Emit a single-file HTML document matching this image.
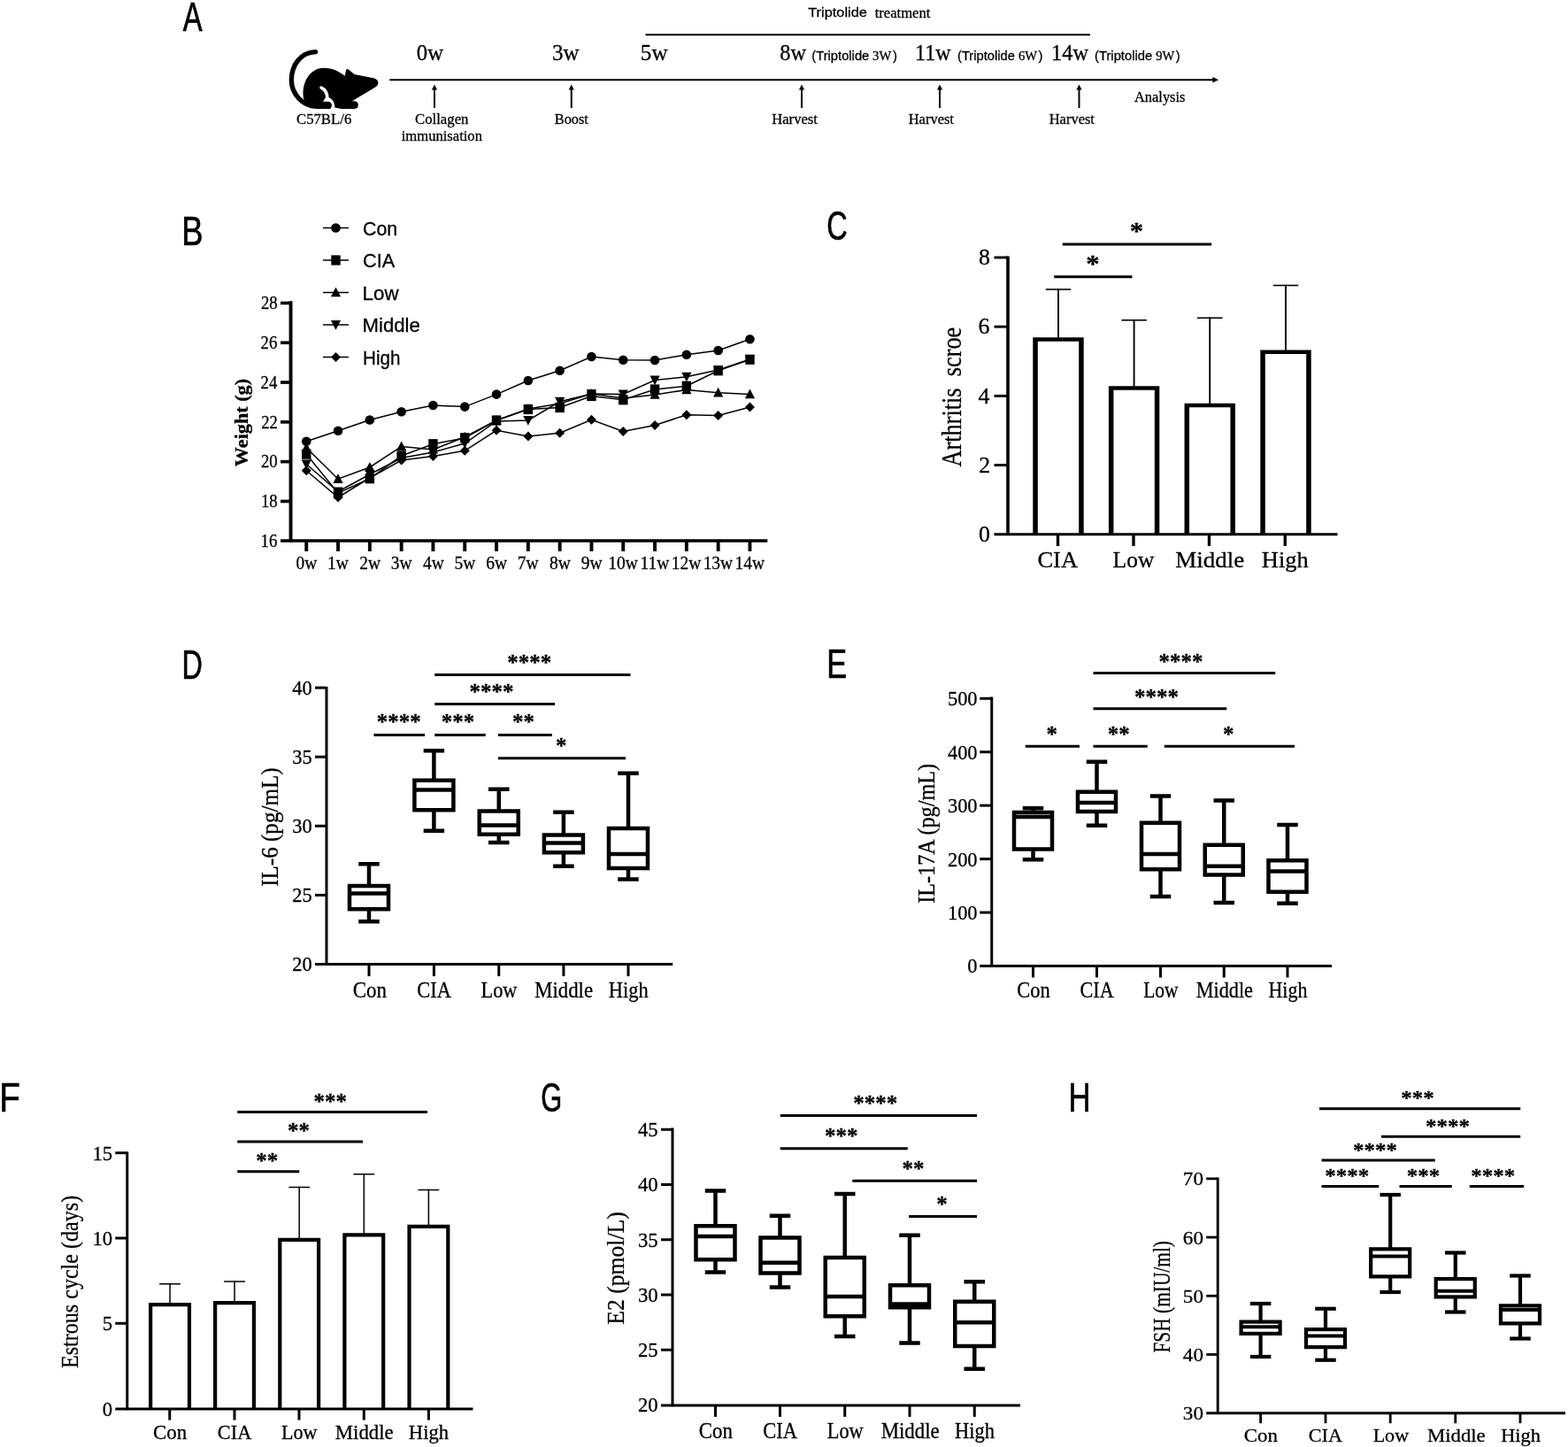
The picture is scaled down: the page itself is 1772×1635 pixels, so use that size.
<!DOCTYPE html>
<html lang="en"><head><meta charset="utf-8"><title>Figure</title>
<style>
html,body{margin:0;padding:0;background:#fff;}
body{width:1772px;height:1635px;overflow:hidden;}
svg{display:block;}
text{fill:#000;white-space:pre;}
</style></head>
<body>
<svg width="1772" height="1635" viewBox="0 0 1772 1635">
<rect width="1772" height="1635" fill="#fff"/>
<g id="shapes">
<g transform="translate(310,40) scale(0.07901)">
<path d="M590 235 C380 240 245 420 245 640 C245 830 400 1015 600 1015 L780 1015" fill="none" stroke="#000" stroke-width="68" stroke-linecap="round"/>
<path d="M425 930 C370 700 500 465 710 465 C830 465 940 520 1008 580 L1028 492 Q1045 472 1062 488 L1145 558 L1420 612 Q1492 632 1485 692 Q1478 722 1440 742 L1112 940 L1150 940 Q1200 945 1200 995 Q1200 1050 1150 1050 L960 1050 L860 1032 L840 1050 L600 1050 Z" fill="#000"/>
<path d="M672 748 C730 775 756 840 758 893" fill="none" stroke="#fff" stroke-width="46" stroke-linecap="round"/>
<path d="M738 880 L696 946 L770 946 Q822 955 822 1000 Q822 1030 800 1052 L866 1052 C868 980 845 915 782 890 Z" fill="#fff"/>
</g>
<line x1="440.30" y1="90.25" x2="1371.00" y2="90.25" stroke="#000" stroke-width="2" stroke-linecap="butt"/>
<path d="M1377.2 90.25 L1370.3 87.05 L1370.3 93.45 Z" fill="#000"/>
<line x1="729.50" y1="39.30" x2="1232.00" y2="39.30" stroke="#000" stroke-width="2" stroke-linecap="butt"/>
<line x1="491.00" y1="122.00" x2="491.00" y2="99.00" stroke="#000" stroke-width="2.0" stroke-linecap="butt"/>
<path d="M491 95.5 L487.9 101.6 L494.1 101.6 Z" fill="#000"/>
<line x1="645.75" y1="122.00" x2="645.75" y2="99.00" stroke="#000" stroke-width="2.0" stroke-linecap="butt"/>
<path d="M645.75 95.5 L642.65 101.6 L648.85 101.6 Z" fill="#000"/>
<line x1="906.00" y1="122.00" x2="906.00" y2="99.00" stroke="#000" stroke-width="2.0" stroke-linecap="butt"/>
<path d="M906 95.5 L902.9 101.6 L909.1 101.6 Z" fill="#000"/>
<line x1="1062.00" y1="122.00" x2="1062.00" y2="99.00" stroke="#000" stroke-width="2.0" stroke-linecap="butt"/>
<path d="M1062 95.5 L1058.9 101.6 L1065.1 101.6 Z" fill="#000"/>
<line x1="1219.50" y1="122.00" x2="1219.50" y2="99.00" stroke="#000" stroke-width="2.0" stroke-linecap="butt"/>
<path d="M1219.5 95.5 L1216.4 101.6 L1222.6 101.6 Z" fill="#000"/>
<text transform="translate(917.28,68.10) scale(1.0392,1)" font-family="'Liberation Sans', sans-serif" font-size="14.2" stroke="#000" stroke-width="0.28">(Triptolide <tspan x="66.24" font-family="'Liberation Serif', serif" font-size="14.1">3W</tspan><tspan x="88.18">)</tspan></text>
<text transform="translate(1081.98,68.10) scale(1.0392,1)" font-family="'Liberation Sans', sans-serif" font-size="14.2" stroke="#000" stroke-width="0.28">(Triptolide <tspan x="66.46" font-family="'Liberation Serif', serif" font-size="14.1">6W</tspan><tspan x="88.18">)</tspan></text>
<text transform="translate(1237.08,68.10) scale(1.0392,1)" font-family="'Liberation Sans', sans-serif" font-size="14.2" stroke="#000" stroke-width="0.28">(Triptolide <tspan x="66.46" font-family="'Liberation Serif', serif" font-size="14.1">9W</tspan><tspan x="88.18">)</tspan></text>
<line x1="328.55" y1="340.30" x2="328.55" y2="612.65" stroke="#000" stroke-width="3.9" stroke-linecap="butt"/>
<line x1="317.05" y1="611.00" x2="867.30" y2="611.00" stroke="#000" stroke-width="3.7" stroke-linecap="butt"/>
<line x1="317.05" y1="566.45" x2="328.55" y2="566.45" stroke="#000" stroke-width="3.6" stroke-linecap="butt"/>
<line x1="317.05" y1="521.65" x2="328.55" y2="521.65" stroke="#000" stroke-width="3.6" stroke-linecap="butt"/>
<line x1="317.05" y1="476.85" x2="328.55" y2="476.85" stroke="#000" stroke-width="3.6" stroke-linecap="butt"/>
<line x1="317.05" y1="432.05" x2="328.55" y2="432.05" stroke="#000" stroke-width="3.6" stroke-linecap="butt"/>
<line x1="317.05" y1="387.25" x2="328.55" y2="387.25" stroke="#000" stroke-width="3.6" stroke-linecap="butt"/>
<line x1="317.05" y1="342.45" x2="328.55" y2="342.45" stroke="#000" stroke-width="3.6" stroke-linecap="butt"/>
<line x1="346.25" y1="611.00" x2="346.25" y2="622.90" stroke="#000" stroke-width="3.9" stroke-linecap="butt"/>
<line x1="382.05" y1="611.00" x2="382.05" y2="622.90" stroke="#000" stroke-width="3.9" stroke-linecap="butt"/>
<line x1="417.85" y1="611.00" x2="417.85" y2="622.90" stroke="#000" stroke-width="3.9" stroke-linecap="butt"/>
<line x1="453.65" y1="611.00" x2="453.65" y2="622.90" stroke="#000" stroke-width="3.9" stroke-linecap="butt"/>
<line x1="489.45" y1="611.00" x2="489.45" y2="622.90" stroke="#000" stroke-width="3.9" stroke-linecap="butt"/>
<line x1="525.25" y1="611.00" x2="525.25" y2="622.90" stroke="#000" stroke-width="3.9" stroke-linecap="butt"/>
<line x1="561.05" y1="611.00" x2="561.05" y2="622.90" stroke="#000" stroke-width="3.9" stroke-linecap="butt"/>
<line x1="596.85" y1="611.00" x2="596.85" y2="622.90" stroke="#000" stroke-width="3.9" stroke-linecap="butt"/>
<line x1="632.65" y1="611.00" x2="632.65" y2="622.90" stroke="#000" stroke-width="3.9" stroke-linecap="butt"/>
<line x1="668.45" y1="611.00" x2="668.45" y2="622.90" stroke="#000" stroke-width="3.9" stroke-linecap="butt"/>
<line x1="704.25" y1="611.00" x2="704.25" y2="622.90" stroke="#000" stroke-width="3.9" stroke-linecap="butt"/>
<line x1="740.05" y1="611.00" x2="740.05" y2="622.90" stroke="#000" stroke-width="3.9" stroke-linecap="butt"/>
<line x1="775.85" y1="611.00" x2="775.85" y2="622.90" stroke="#000" stroke-width="3.9" stroke-linecap="butt"/>
<line x1="811.65" y1="611.00" x2="811.65" y2="622.90" stroke="#000" stroke-width="3.9" stroke-linecap="butt"/>
<line x1="847.45" y1="611.00" x2="847.45" y2="622.90" stroke="#000" stroke-width="3.9" stroke-linecap="butt"/>
<polyline points="346.25,498.75 382.05,486.75 417.85,474.50 453.65,465.25 489.45,458.00 525.25,459.60 561.05,445.60 596.85,430.00 632.65,418.75 668.45,403.00 704.25,406.75 740.05,407.00 775.85,400.75 811.65,396.00 847.45,383.25" fill="none" stroke="#000" stroke-width="1.5"/>
<polyline points="346.25,513.20 382.05,557.20 417.85,540.75 453.65,515.00 489.45,501.75 525.25,494.80 561.05,475.00 596.85,462.50 632.65,460.50 668.45,447.50 704.25,451.75 740.05,440.00 775.85,436.25 811.65,418.75 847.45,406.25" fill="none" stroke="#000" stroke-width="1.5"/>
<polyline points="346.25,506.00 382.05,541.25 417.85,528.00 453.65,504.50 489.45,508.00 525.25,493.75 561.05,475.00 596.85,462.00 632.65,456.00 668.45,445.00 704.25,450.00 740.05,446.00 775.85,440.50 811.65,443.75 847.45,445.50" fill="none" stroke="#000" stroke-width="1.5"/>
<polyline points="346.25,524.50 382.05,555.50 417.85,536.00 453.65,517.50 489.45,511.00 525.25,501.00 561.05,476.00 596.85,475.00 632.65,453.75 668.45,445.00 704.25,445.50 740.05,429.50 775.85,425.75 811.65,418.00 847.45,406.00" fill="none" stroke="#000" stroke-width="1.5"/>
<polyline points="346.25,531.75 382.05,562.00 417.85,540.00 453.65,520.00 489.45,515.50 525.25,509.30 561.05,486.25 596.85,493.00 632.65,489.25 668.45,474.25 704.25,487.50 740.05,480.50 775.85,468.75 811.65,469.50 847.45,460.00" fill="none" stroke="#000" stroke-width="1.5"/>
<circle cx="346.25" cy="498.75" r="5.3" fill="#000"/>
<circle cx="382.05" cy="486.75" r="5.3" fill="#000"/>
<circle cx="417.85" cy="474.50" r="5.3" fill="#000"/>
<circle cx="453.65" cy="465.25" r="5.3" fill="#000"/>
<circle cx="489.45" cy="458.00" r="5.3" fill="#000"/>
<circle cx="525.25" cy="459.60" r="5.3" fill="#000"/>
<circle cx="561.05" cy="445.60" r="5.3" fill="#000"/>
<circle cx="596.85" cy="430.00" r="5.3" fill="#000"/>
<circle cx="632.65" cy="418.75" r="5.3" fill="#000"/>
<circle cx="668.45" cy="403.00" r="5.3" fill="#000"/>
<circle cx="704.25" cy="406.75" r="5.3" fill="#000"/>
<circle cx="740.05" cy="407.00" r="5.3" fill="#000"/>
<circle cx="775.85" cy="400.75" r="5.3" fill="#000"/>
<circle cx="811.65" cy="396.00" r="5.3" fill="#000"/>
<circle cx="847.45" cy="383.25" r="5.3" fill="#000"/>
<rect x="341.05" y="507.60" width="10.4" height="11.2" fill="#000"/>
<rect x="376.85" y="551.60" width="10.4" height="11.2" fill="#000"/>
<rect x="412.65" y="535.15" width="10.4" height="11.2" fill="#000"/>
<rect x="448.45" y="509.40" width="10.4" height="11.2" fill="#000"/>
<rect x="484.25" y="496.15" width="10.4" height="11.2" fill="#000"/>
<rect x="520.05" y="489.20" width="10.4" height="11.2" fill="#000"/>
<rect x="555.85" y="469.40" width="10.4" height="11.2" fill="#000"/>
<rect x="591.65" y="456.90" width="10.4" height="11.2" fill="#000"/>
<rect x="627.45" y="454.90" width="10.4" height="11.2" fill="#000"/>
<rect x="663.25" y="441.90" width="10.4" height="11.2" fill="#000"/>
<rect x="699.05" y="446.15" width="10.4" height="11.2" fill="#000"/>
<rect x="734.85" y="434.40" width="10.4" height="11.2" fill="#000"/>
<rect x="770.65" y="430.65" width="10.4" height="11.2" fill="#000"/>
<rect x="806.45" y="413.15" width="10.4" height="11.2" fill="#000"/>
<rect x="842.25" y="400.65" width="10.4" height="11.2" fill="#000"/>
<path d="M346.25 500.10 L351.85 510.80 L340.65 510.80 Z" fill="#000"/>
<path d="M382.05 535.35 L387.65 546.05 L376.45 546.05 Z" fill="#000"/>
<path d="M417.85 522.10 L423.45 532.80 L412.25 532.80 Z" fill="#000"/>
<path d="M453.65 498.60 L459.25 509.30 L448.05 509.30 Z" fill="#000"/>
<path d="M489.45 502.10 L495.05 512.80 L483.85 512.80 Z" fill="#000"/>
<path d="M525.25 487.85 L530.85 498.55 L519.65 498.55 Z" fill="#000"/>
<path d="M561.05 469.10 L566.65 479.80 L555.45 479.80 Z" fill="#000"/>
<path d="M596.85 456.10 L602.45 466.80 L591.25 466.80 Z" fill="#000"/>
<path d="M632.65 450.10 L638.25 460.80 L627.05 460.80 Z" fill="#000"/>
<path d="M668.45 439.10 L674.05 449.80 L662.85 449.80 Z" fill="#000"/>
<path d="M704.25 444.10 L709.85 454.80 L698.65 454.80 Z" fill="#000"/>
<path d="M740.05 440.10 L745.65 450.80 L734.45 450.80 Z" fill="#000"/>
<path d="M775.85 434.60 L781.45 445.30 L770.25 445.30 Z" fill="#000"/>
<path d="M811.65 437.85 L817.25 448.55 L806.05 448.55 Z" fill="#000"/>
<path d="M847.45 439.60 L853.05 450.30 L841.85 450.30 Z" fill="#000"/>
<path d="M346.25 530.20 L351.85 519.60 L340.65 519.60 Z" fill="#000"/>
<path d="M382.05 561.20 L387.65 550.60 L376.45 550.60 Z" fill="#000"/>
<path d="M417.85 541.70 L423.45 531.10 L412.25 531.10 Z" fill="#000"/>
<path d="M453.65 523.20 L459.25 512.60 L448.05 512.60 Z" fill="#000"/>
<path d="M489.45 516.70 L495.05 506.10 L483.85 506.10 Z" fill="#000"/>
<path d="M525.25 506.70 L530.85 496.10 L519.65 496.10 Z" fill="#000"/>
<path d="M561.05 481.70 L566.65 471.10 L555.45 471.10 Z" fill="#000"/>
<path d="M596.85 480.70 L602.45 470.10 L591.25 470.10 Z" fill="#000"/>
<path d="M632.65 459.45 L638.25 448.85 L627.05 448.85 Z" fill="#000"/>
<path d="M668.45 450.70 L674.05 440.10 L662.85 440.10 Z" fill="#000"/>
<path d="M704.25 451.20 L709.85 440.60 L698.65 440.60 Z" fill="#000"/>
<path d="M740.05 435.20 L745.65 424.60 L734.45 424.60 Z" fill="#000"/>
<path d="M775.85 431.45 L781.45 420.85 L770.25 420.85 Z" fill="#000"/>
<path d="M811.65 423.70 L817.25 413.10 L806.05 413.10 Z" fill="#000"/>
<path d="M847.45 411.70 L853.05 401.10 L841.85 401.10 Z" fill="#000"/>
<path d="M346.25 526.25 L351.75 531.75 L346.25 537.25 L340.75 531.75 Z" fill="#000"/>
<path d="M382.05 556.50 L387.55 562.00 L382.05 567.50 L376.55 562.00 Z" fill="#000"/>
<path d="M417.85 534.50 L423.35 540.00 L417.85 545.50 L412.35 540.00 Z" fill="#000"/>
<path d="M453.65 514.50 L459.15 520.00 L453.65 525.50 L448.15 520.00 Z" fill="#000"/>
<path d="M489.45 510.00 L494.95 515.50 L489.45 521.00 L483.95 515.50 Z" fill="#000"/>
<path d="M525.25 503.80 L530.75 509.30 L525.25 514.80 L519.75 509.30 Z" fill="#000"/>
<path d="M561.05 480.75 L566.55 486.25 L561.05 491.75 L555.55 486.25 Z" fill="#000"/>
<path d="M596.85 487.50 L602.35 493.00 L596.85 498.50 L591.35 493.00 Z" fill="#000"/>
<path d="M632.65 483.75 L638.15 489.25 L632.65 494.75 L627.15 489.25 Z" fill="#000"/>
<path d="M668.45 468.75 L673.95 474.25 L668.45 479.75 L662.95 474.25 Z" fill="#000"/>
<path d="M704.25 482.00 L709.75 487.50 L704.25 493.00 L698.75 487.50 Z" fill="#000"/>
<path d="M740.05 475.00 L745.55 480.50 L740.05 486.00 L734.55 480.50 Z" fill="#000"/>
<path d="M775.85 463.25 L781.35 468.75 L775.85 474.25 L770.35 468.75 Z" fill="#000"/>
<path d="M811.65 464.00 L817.15 469.50 L811.65 475.00 L806.15 469.50 Z" fill="#000"/>
<path d="M847.45 454.50 L852.95 460.00 L847.45 465.50 L841.95 460.00 Z" fill="#000"/>
<line x1="365.00" y1="257.50" x2="394.00" y2="257.50" stroke="#000" stroke-width="1.5" stroke-linecap="butt"/>
<circle cx="379.50" cy="257.50" r="5.3" fill="#000"/>
<line x1="365.00" y1="294.00" x2="394.00" y2="294.00" stroke="#000" stroke-width="1.5" stroke-linecap="butt"/>
<rect x="374.30" y="288.40" width="10.4" height="11.2" fill="#000"/>
<line x1="365.00" y1="330.50" x2="394.00" y2="330.50" stroke="#000" stroke-width="1.5" stroke-linecap="butt"/>
<path d="M379.50 324.60 L385.10 335.30 L373.90 335.30 Z" fill="#000"/>
<line x1="365.00" y1="367.00" x2="394.00" y2="367.00" stroke="#000" stroke-width="1.5" stroke-linecap="butt"/>
<path d="M379.50 372.70 L385.10 362.10 L373.90 362.10 Z" fill="#000"/>
<line x1="365.00" y1="403.50" x2="394.00" y2="403.50" stroke="#000" stroke-width="1.5" stroke-linecap="butt"/>
<path d="M379.50 398.00 L385.00 403.50 L379.50 409.00 L374.00 403.50 Z" fill="#000"/>
<line x1="1139.00" y1="289.50" x2="1139.00" y2="605.10" stroke="#000" stroke-width="3.6" stroke-linecap="butt"/>
<line x1="1123.50" y1="603.75" x2="1511.50" y2="603.75" stroke="#000" stroke-width="3.1" stroke-linecap="butt"/>
<line x1="1123.50" y1="525.55" x2="1139.00" y2="525.55" stroke="#000" stroke-width="2.9" stroke-linecap="butt"/>
<line x1="1123.50" y1="447.35" x2="1139.00" y2="447.35" stroke="#000" stroke-width="2.9" stroke-linecap="butt"/>
<line x1="1123.50" y1="369.15" x2="1139.00" y2="369.15" stroke="#000" stroke-width="2.9" stroke-linecap="butt"/>
<line x1="1123.50" y1="290.95" x2="1139.00" y2="290.95" stroke="#000" stroke-width="2.9" stroke-linecap="butt"/>
<line x1="1195.50" y1="603.75" x2="1195.50" y2="616.95" stroke="#000" stroke-width="3.4" stroke-linecap="butt"/>
<line x1="1281.00" y1="603.75" x2="1281.00" y2="616.95" stroke="#000" stroke-width="3.4" stroke-linecap="butt"/>
<line x1="1366.50" y1="603.75" x2="1366.50" y2="616.95" stroke="#000" stroke-width="3.4" stroke-linecap="butt"/>
<line x1="1452.30" y1="603.75" x2="1452.30" y2="616.95" stroke="#000" stroke-width="3.4" stroke-linecap="butt"/>
<line x1="1196.00" y1="326.20" x2="1196.00" y2="383.50" stroke="#000" stroke-width="1.9" stroke-linecap="butt"/>
<line x1="1181.75" y1="327.00" x2="1210.25" y2="327.00" stroke="#000" stroke-width="1.6" stroke-linecap="butt"/>
<path d="M1167.30 603.75 L1167.30 381.25 L1224.70 381.25 L1224.70 603.75 L1219.20 603.75 L1219.20 385.75 L1172.80 385.75 L1172.80 603.75 Z" fill="#000"/>
<line x1="1281.60" y1="360.95" x2="1281.60" y2="438.50" stroke="#000" stroke-width="1.9" stroke-linecap="butt"/>
<line x1="1267.35" y1="361.75" x2="1295.85" y2="361.75" stroke="#000" stroke-width="1.6" stroke-linecap="butt"/>
<path d="M1252.90 603.75 L1252.90 436.25 L1310.30 436.25 L1310.30 603.75 L1304.80 603.75 L1304.80 440.75 L1258.40 440.75 L1258.40 603.75 Z" fill="#000"/>
<line x1="1367.25" y1="358.45" x2="1367.25" y2="458.00" stroke="#000" stroke-width="1.9" stroke-linecap="butt"/>
<line x1="1353.00" y1="359.25" x2="1381.50" y2="359.25" stroke="#000" stroke-width="1.6" stroke-linecap="butt"/>
<path d="M1338.55 603.75 L1338.55 455.75 L1395.95 455.75 L1395.95 603.75 L1390.45 603.75 L1390.45 460.25 L1344.05 460.25 L1344.05 603.75 Z" fill="#000"/>
<line x1="1453.00" y1="321.70" x2="1453.00" y2="397.75" stroke="#000" stroke-width="1.9" stroke-linecap="butt"/>
<line x1="1438.75" y1="322.50" x2="1467.25" y2="322.50" stroke="#000" stroke-width="1.6" stroke-linecap="butt"/>
<path d="M1424.30 603.75 L1424.30 395.50 L1481.70 395.50 L1481.70 603.75 L1476.20 603.75 L1476.20 400.00 L1429.80 400.00 L1429.80 603.75 Z" fill="#000"/>
<line x1="1200.75" y1="276.00" x2="1369.25" y2="276.00" stroke="#000" stroke-width="3" stroke-linecap="butt"/>
<line x1="1191.25" y1="312.75" x2="1279.50" y2="312.75" stroke="#000" stroke-width="3" stroke-linecap="butt"/>
<line x1="369.00" y1="776.00" x2="369.00" y2="1090.80" stroke="#000" stroke-width="3" stroke-linecap="butt"/>
<line x1="356.00" y1="1089.50" x2="760.25" y2="1089.50" stroke="#000" stroke-width="3" stroke-linecap="butt"/>
<line x1="356.00" y1="1011.40" x2="369.00" y2="1011.40" stroke="#000" stroke-width="3" stroke-linecap="butt"/>
<line x1="356.00" y1="933.30" x2="369.00" y2="933.30" stroke="#000" stroke-width="3" stroke-linecap="butt"/>
<line x1="356.00" y1="855.20" x2="369.00" y2="855.20" stroke="#000" stroke-width="3" stroke-linecap="butt"/>
<line x1="356.00" y1="777.10" x2="369.00" y2="777.10" stroke="#000" stroke-width="3" stroke-linecap="butt"/>
<line x1="417.00" y1="1089.50" x2="417.00" y2="1103.10" stroke="#000" stroke-width="3" stroke-linecap="butt"/>
<line x1="490.40" y1="1089.50" x2="490.40" y2="1103.10" stroke="#000" stroke-width="3" stroke-linecap="butt"/>
<line x1="563.75" y1="1089.50" x2="563.75" y2="1103.10" stroke="#000" stroke-width="3" stroke-linecap="butt"/>
<line x1="636.90" y1="1089.50" x2="636.90" y2="1103.10" stroke="#000" stroke-width="3" stroke-linecap="butt"/>
<line x1="710.00" y1="1089.50" x2="710.00" y2="1103.10" stroke="#000" stroke-width="3" stroke-linecap="butt"/>
<line x1="417.00" y1="976.25" x2="417.00" y2="1001.00" stroke="#000" stroke-width="4.5" stroke-linecap="butt"/>
<line x1="417.00" y1="1027.25" x2="417.00" y2="1041.25" stroke="#000" stroke-width="4.5" stroke-linecap="butt"/>
<line x1="405.25" y1="976.25" x2="428.75" y2="976.25" stroke="#000" stroke-width="4.5" stroke-linecap="butt"/>
<line x1="405.25" y1="1041.25" x2="428.75" y2="1041.25" stroke="#000" stroke-width="4.5" stroke-linecap="butt"/>
<rect x="395.00" y="1001.00" width="44.00" height="26.25" fill="none" stroke="#000" stroke-width="4.5"/>
<line x1="395.00" y1="1009.50" x2="439.00" y2="1009.50" stroke="#000" stroke-width="4.5" stroke-linecap="butt"/>
<line x1="490.40" y1="848.25" x2="490.40" y2="881.75" stroke="#000" stroke-width="4.5" stroke-linecap="butt"/>
<line x1="490.40" y1="915.25" x2="490.40" y2="938.75" stroke="#000" stroke-width="4.5" stroke-linecap="butt"/>
<line x1="478.65" y1="848.25" x2="502.15" y2="848.25" stroke="#000" stroke-width="4.5" stroke-linecap="butt"/>
<line x1="478.65" y1="938.75" x2="502.15" y2="938.75" stroke="#000" stroke-width="4.5" stroke-linecap="butt"/>
<rect x="468.40" y="881.75" width="44.00" height="33.50" fill="none" stroke="#000" stroke-width="4.5"/>
<line x1="468.40" y1="892.50" x2="512.40" y2="892.50" stroke="#000" stroke-width="4.5" stroke-linecap="butt"/>
<line x1="563.75" y1="891.75" x2="563.75" y2="916.50" stroke="#000" stroke-width="4.5" stroke-linecap="butt"/>
<line x1="563.75" y1="942.75" x2="563.75" y2="952.00" stroke="#000" stroke-width="4.5" stroke-linecap="butt"/>
<line x1="552.00" y1="891.75" x2="575.50" y2="891.75" stroke="#000" stroke-width="4.5" stroke-linecap="butt"/>
<line x1="552.00" y1="952.00" x2="575.50" y2="952.00" stroke="#000" stroke-width="4.5" stroke-linecap="butt"/>
<rect x="541.75" y="916.50" width="44.00" height="26.25" fill="none" stroke="#000" stroke-width="4.5"/>
<line x1="541.75" y1="932.50" x2="585.75" y2="932.50" stroke="#000" stroke-width="4.5" stroke-linecap="butt"/>
<line x1="636.90" y1="917.75" x2="636.90" y2="943.50" stroke="#000" stroke-width="4.5" stroke-linecap="butt"/>
<line x1="636.90" y1="963.25" x2="636.90" y2="978.75" stroke="#000" stroke-width="4.5" stroke-linecap="butt"/>
<line x1="625.15" y1="917.75" x2="648.65" y2="917.75" stroke="#000" stroke-width="4.5" stroke-linecap="butt"/>
<line x1="625.15" y1="978.75" x2="648.65" y2="978.75" stroke="#000" stroke-width="4.5" stroke-linecap="butt"/>
<rect x="614.90" y="943.50" width="44.00" height="19.75" fill="none" stroke="#000" stroke-width="4.5"/>
<line x1="614.90" y1="952.50" x2="658.90" y2="952.50" stroke="#000" stroke-width="4.5" stroke-linecap="butt"/>
<line x1="710.00" y1="873.75" x2="710.00" y2="936.00" stroke="#000" stroke-width="4.5" stroke-linecap="butt"/>
<line x1="710.00" y1="981.00" x2="710.00" y2="993.50" stroke="#000" stroke-width="4.5" stroke-linecap="butt"/>
<line x1="698.25" y1="873.75" x2="721.75" y2="873.75" stroke="#000" stroke-width="4.5" stroke-linecap="butt"/>
<line x1="698.25" y1="993.50" x2="721.75" y2="993.50" stroke="#000" stroke-width="4.5" stroke-linecap="butt"/>
<rect x="688.00" y="936.00" width="44.00" height="45.00" fill="none" stroke="#000" stroke-width="4.5"/>
<line x1="688.00" y1="965.00" x2="732.00" y2="965.00" stroke="#000" stroke-width="4.5" stroke-linecap="butt"/>
<line x1="491.25" y1="762.50" x2="712.50" y2="762.50" stroke="#000" stroke-width="3" stroke-linecap="butt"/>
<line x1="491.25" y1="795.50" x2="627.00" y2="795.50" stroke="#000" stroke-width="3" stroke-linecap="butt"/>
<line x1="422.50" y1="830.50" x2="480.00" y2="830.50" stroke="#000" stroke-width="3" stroke-linecap="butt"/>
<line x1="491.25" y1="830.50" x2="548.75" y2="830.50" stroke="#000" stroke-width="3" stroke-linecap="butt"/>
<line x1="563.00" y1="830.50" x2="623.75" y2="830.50" stroke="#000" stroke-width="3" stroke-linecap="butt"/>
<line x1="563.00" y1="856.75" x2="707.00" y2="856.75" stroke="#000" stroke-width="3" stroke-linecap="butt"/>
<line x1="1120.75" y1="787.50" x2="1120.75" y2="1092.80" stroke="#000" stroke-width="3" stroke-linecap="butt"/>
<line x1="1107.25" y1="1091.50" x2="1505.00" y2="1091.50" stroke="#000" stroke-width="3" stroke-linecap="butt"/>
<line x1="1107.25" y1="1031.05" x2="1120.75" y2="1031.05" stroke="#000" stroke-width="3" stroke-linecap="butt"/>
<line x1="1107.25" y1="970.60" x2="1120.75" y2="970.60" stroke="#000" stroke-width="3" stroke-linecap="butt"/>
<line x1="1107.25" y1="910.15" x2="1120.75" y2="910.15" stroke="#000" stroke-width="3" stroke-linecap="butt"/>
<line x1="1107.25" y1="849.70" x2="1120.75" y2="849.70" stroke="#000" stroke-width="3" stroke-linecap="butt"/>
<line x1="1107.25" y1="789.25" x2="1120.75" y2="789.25" stroke="#000" stroke-width="3" stroke-linecap="butt"/>
<line x1="1167.50" y1="1091.50" x2="1167.50" y2="1104.50" stroke="#000" stroke-width="3" stroke-linecap="butt"/>
<line x1="1239.50" y1="1091.50" x2="1239.50" y2="1104.50" stroke="#000" stroke-width="3" stroke-linecap="butt"/>
<line x1="1311.50" y1="1091.50" x2="1311.50" y2="1104.50" stroke="#000" stroke-width="3" stroke-linecap="butt"/>
<line x1="1383.25" y1="1091.50" x2="1383.25" y2="1104.50" stroke="#000" stroke-width="3" stroke-linecap="butt"/>
<line x1="1455.00" y1="1091.50" x2="1455.00" y2="1104.50" stroke="#000" stroke-width="3" stroke-linecap="butt"/>
<line x1="1167.50" y1="913.25" x2="1167.50" y2="918.00" stroke="#000" stroke-width="4.5" stroke-linecap="butt"/>
<line x1="1167.50" y1="959.50" x2="1167.50" y2="971.25" stroke="#000" stroke-width="4.5" stroke-linecap="butt"/>
<line x1="1155.75" y1="913.25" x2="1179.25" y2="913.25" stroke="#000" stroke-width="4.5" stroke-linecap="butt"/>
<line x1="1155.75" y1="971.25" x2="1179.25" y2="971.25" stroke="#000" stroke-width="4.5" stroke-linecap="butt"/>
<rect x="1146.00" y="918.00" width="43.00" height="41.50" fill="none" stroke="#000" stroke-width="4.5"/>
<line x1="1146.00" y1="923.00" x2="1189.00" y2="923.00" stroke="#000" stroke-width="4.5" stroke-linecap="butt"/>
<line x1="1239.50" y1="860.75" x2="1239.50" y2="894.75" stroke="#000" stroke-width="4.5" stroke-linecap="butt"/>
<line x1="1239.50" y1="917.00" x2="1239.50" y2="932.75" stroke="#000" stroke-width="4.5" stroke-linecap="butt"/>
<line x1="1227.75" y1="860.75" x2="1251.25" y2="860.75" stroke="#000" stroke-width="4.5" stroke-linecap="butt"/>
<line x1="1227.75" y1="932.75" x2="1251.25" y2="932.75" stroke="#000" stroke-width="4.5" stroke-linecap="butt"/>
<rect x="1218.00" y="894.75" width="43.00" height="22.25" fill="none" stroke="#000" stroke-width="4.5"/>
<line x1="1218.00" y1="907.00" x2="1261.00" y2="907.00" stroke="#000" stroke-width="4.5" stroke-linecap="butt"/>
<line x1="1311.50" y1="899.50" x2="1311.50" y2="929.75" stroke="#000" stroke-width="4.5" stroke-linecap="butt"/>
<line x1="1311.50" y1="982.25" x2="1311.50" y2="1013.00" stroke="#000" stroke-width="4.5" stroke-linecap="butt"/>
<line x1="1299.75" y1="899.50" x2="1323.25" y2="899.50" stroke="#000" stroke-width="4.5" stroke-linecap="butt"/>
<line x1="1299.75" y1="1013.00" x2="1323.25" y2="1013.00" stroke="#000" stroke-width="4.5" stroke-linecap="butt"/>
<rect x="1290.00" y="929.75" width="43.00" height="52.50" fill="none" stroke="#000" stroke-width="4.5"/>
<line x1="1290.00" y1="965.00" x2="1333.00" y2="965.00" stroke="#000" stroke-width="4.5" stroke-linecap="butt"/>
<line x1="1383.25" y1="904.50" x2="1383.25" y2="954.75" stroke="#000" stroke-width="4.5" stroke-linecap="butt"/>
<line x1="1383.25" y1="988.50" x2="1383.25" y2="1020.00" stroke="#000" stroke-width="4.5" stroke-linecap="butt"/>
<line x1="1371.50" y1="904.50" x2="1395.00" y2="904.50" stroke="#000" stroke-width="4.5" stroke-linecap="butt"/>
<line x1="1371.50" y1="1020.00" x2="1395.00" y2="1020.00" stroke="#000" stroke-width="4.5" stroke-linecap="butt"/>
<rect x="1361.75" y="954.75" width="43.00" height="33.75" fill="none" stroke="#000" stroke-width="4.5"/>
<line x1="1361.75" y1="978.75" x2="1404.75" y2="978.75" stroke="#000" stroke-width="4.5" stroke-linecap="butt"/>
<line x1="1455.00" y1="932.00" x2="1455.00" y2="972.25" stroke="#000" stroke-width="4.5" stroke-linecap="butt"/>
<line x1="1455.00" y1="1007.75" x2="1455.00" y2="1020.75" stroke="#000" stroke-width="4.5" stroke-linecap="butt"/>
<line x1="1443.25" y1="932.00" x2="1466.75" y2="932.00" stroke="#000" stroke-width="4.5" stroke-linecap="butt"/>
<line x1="1443.25" y1="1020.75" x2="1466.75" y2="1020.75" stroke="#000" stroke-width="4.5" stroke-linecap="butt"/>
<rect x="1433.50" y="972.25" width="43.00" height="35.50" fill="none" stroke="#000" stroke-width="4.5"/>
<line x1="1433.50" y1="984.50" x2="1476.50" y2="984.50" stroke="#000" stroke-width="4.5" stroke-linecap="butt"/>
<line x1="1235.50" y1="760.50" x2="1441.25" y2="760.50" stroke="#000" stroke-width="3" stroke-linecap="butt"/>
<line x1="1235.50" y1="800.75" x2="1386.25" y2="800.75" stroke="#000" stroke-width="3" stroke-linecap="butt"/>
<line x1="1158.75" y1="843.25" x2="1220.00" y2="843.25" stroke="#000" stroke-width="3" stroke-linecap="butt"/>
<line x1="1235.50" y1="843.25" x2="1296.75" y2="843.25" stroke="#000" stroke-width="3" stroke-linecap="butt"/>
<line x1="1315.75" y1="843.25" x2="1463.00" y2="843.25" stroke="#000" stroke-width="3" stroke-linecap="butt"/>
<line x1="143.75" y1="1301.50" x2="143.75" y2="1593.30" stroke="#000" stroke-width="3" stroke-linecap="butt"/>
<line x1="130.25" y1="1592.00" x2="534.50" y2="1592.00" stroke="#000" stroke-width="3" stroke-linecap="butt"/>
<line x1="130.25" y1="1495.30" x2="143.75" y2="1495.30" stroke="#000" stroke-width="3" stroke-linecap="butt"/>
<line x1="130.25" y1="1399.00" x2="143.75" y2="1399.00" stroke="#000" stroke-width="3" stroke-linecap="butt"/>
<line x1="130.25" y1="1302.70" x2="143.75" y2="1302.70" stroke="#000" stroke-width="3" stroke-linecap="butt"/>
<line x1="191.75" y1="1592.00" x2="191.75" y2="1604.60" stroke="#000" stroke-width="3" stroke-linecap="butt"/>
<line x1="265.00" y1="1592.00" x2="265.00" y2="1604.60" stroke="#000" stroke-width="3" stroke-linecap="butt"/>
<line x1="338.00" y1="1592.00" x2="338.00" y2="1604.60" stroke="#000" stroke-width="3" stroke-linecap="butt"/>
<line x1="411.25" y1="1592.00" x2="411.25" y2="1604.60" stroke="#000" stroke-width="3" stroke-linecap="butt"/>
<line x1="484.40" y1="1592.00" x2="484.40" y2="1604.60" stroke="#000" stroke-width="3" stroke-linecap="butt"/>
<line x1="192.05" y1="1450.00" x2="192.05" y2="1474.10" stroke="#000" stroke-width="1.5" stroke-linecap="butt"/>
<line x1="180.18" y1="1450.75" x2="203.93" y2="1450.75" stroke="#000" stroke-width="1.5" stroke-linecap="butt"/>
<path d="M168.05 1592.00 L168.05 1472.00 L216.05 1472.00 L216.05 1592.00 L211.85 1592.00 L211.85 1476.20 L172.25 1476.20 L172.25 1592.00 Z" fill="#000"/>
<line x1="265.05" y1="1447.25" x2="265.05" y2="1472.10" stroke="#000" stroke-width="1.5" stroke-linecap="butt"/>
<line x1="253.18" y1="1448.00" x2="276.93" y2="1448.00" stroke="#000" stroke-width="1.5" stroke-linecap="butt"/>
<path d="M241.05 1592.00 L241.05 1470.00 L289.05 1470.00 L289.05 1592.00 L284.85 1592.00 L284.85 1474.20 L245.25 1474.20 L245.25 1592.00 Z" fill="#000"/>
<line x1="338.20" y1="1340.75" x2="338.20" y2="1400.85" stroke="#000" stroke-width="1.5" stroke-linecap="butt"/>
<line x1="326.32" y1="1341.50" x2="350.07" y2="1341.50" stroke="#000" stroke-width="1.5" stroke-linecap="butt"/>
<path d="M314.20 1592.00 L314.20 1398.75 L362.20 1398.75 L362.20 1592.00 L358.00 1592.00 L358.00 1402.95 L318.40 1402.95 L318.40 1592.00 Z" fill="#000"/>
<line x1="411.30" y1="1326.00" x2="411.30" y2="1395.35" stroke="#000" stroke-width="1.5" stroke-linecap="butt"/>
<line x1="399.43" y1="1326.75" x2="423.18" y2="1326.75" stroke="#000" stroke-width="1.5" stroke-linecap="butt"/>
<path d="M387.30 1592.00 L387.30 1393.25 L435.30 1393.25 L435.30 1592.00 L431.10 1592.00 L431.10 1397.45 L391.50 1397.45 L391.50 1592.00 Z" fill="#000"/>
<line x1="484.40" y1="1343.75" x2="484.40" y2="1385.85" stroke="#000" stroke-width="1.5" stroke-linecap="butt"/>
<line x1="472.53" y1="1344.50" x2="496.28" y2="1344.50" stroke="#000" stroke-width="1.5" stroke-linecap="butt"/>
<path d="M460.40 1592.00 L460.40 1383.75 L508.40 1383.75 L508.40 1592.00 L504.20 1592.00 L504.20 1387.95 L464.60 1387.95 L464.60 1592.00 Z" fill="#000"/>
<line x1="268.25" y1="1256.50" x2="483.00" y2="1256.50" stroke="#000" stroke-width="3" stroke-linecap="butt"/>
<line x1="268.25" y1="1290.00" x2="410.00" y2="1290.00" stroke="#000" stroke-width="3" stroke-linecap="butt"/>
<line x1="268.25" y1="1323.75" x2="338.25" y2="1323.75" stroke="#000" stroke-width="3" stroke-linecap="butt"/>
<line x1="760.00" y1="1274.50" x2="760.00" y2="1589.20" stroke="#000" stroke-width="3" stroke-linecap="butt"/>
<line x1="747.00" y1="1587.90" x2="1153.00" y2="1587.90" stroke="#000" stroke-width="3" stroke-linecap="butt"/>
<line x1="747.00" y1="1525.25" x2="760.00" y2="1525.25" stroke="#000" stroke-width="3" stroke-linecap="butt"/>
<line x1="747.00" y1="1463.00" x2="760.00" y2="1463.00" stroke="#000" stroke-width="3" stroke-linecap="butt"/>
<line x1="747.00" y1="1400.75" x2="760.00" y2="1400.75" stroke="#000" stroke-width="3" stroke-linecap="butt"/>
<line x1="747.00" y1="1338.50" x2="760.00" y2="1338.50" stroke="#000" stroke-width="3" stroke-linecap="butt"/>
<line x1="747.00" y1="1276.25" x2="760.00" y2="1276.25" stroke="#000" stroke-width="3" stroke-linecap="butt"/>
<line x1="808.50" y1="1587.90" x2="808.50" y2="1600.90" stroke="#000" stroke-width="3" stroke-linecap="butt"/>
<line x1="881.50" y1="1587.90" x2="881.50" y2="1600.90" stroke="#000" stroke-width="3" stroke-linecap="butt"/>
<line x1="954.75" y1="1587.90" x2="954.75" y2="1600.90" stroke="#000" stroke-width="3" stroke-linecap="butt"/>
<line x1="1028.00" y1="1587.90" x2="1028.00" y2="1600.90" stroke="#000" stroke-width="3" stroke-linecap="butt"/>
<line x1="1101.25" y1="1587.90" x2="1101.25" y2="1600.90" stroke="#000" stroke-width="3" stroke-linecap="butt"/>
<line x1="808.50" y1="1345.50" x2="808.50" y2="1385.25" stroke="#000" stroke-width="4.5" stroke-linecap="butt"/>
<line x1="808.50" y1="1423.25" x2="808.50" y2="1437.50" stroke="#000" stroke-width="4.5" stroke-linecap="butt"/>
<line x1="796.75" y1="1345.50" x2="820.25" y2="1345.50" stroke="#000" stroke-width="4.5" stroke-linecap="butt"/>
<line x1="796.75" y1="1437.50" x2="820.25" y2="1437.50" stroke="#000" stroke-width="4.5" stroke-linecap="butt"/>
<rect x="786.50" y="1385.25" width="44.00" height="38.00" fill="none" stroke="#000" stroke-width="4.5"/>
<line x1="786.50" y1="1397.00" x2="830.50" y2="1397.00" stroke="#000" stroke-width="4.5" stroke-linecap="butt"/>
<line x1="881.50" y1="1373.75" x2="881.50" y2="1398.50" stroke="#000" stroke-width="4.5" stroke-linecap="butt"/>
<line x1="881.50" y1="1438.50" x2="881.50" y2="1454.50" stroke="#000" stroke-width="4.5" stroke-linecap="butt"/>
<line x1="869.75" y1="1373.75" x2="893.25" y2="1373.75" stroke="#000" stroke-width="4.5" stroke-linecap="butt"/>
<line x1="869.75" y1="1454.50" x2="893.25" y2="1454.50" stroke="#000" stroke-width="4.5" stroke-linecap="butt"/>
<rect x="859.50" y="1398.50" width="44.00" height="40.00" fill="none" stroke="#000" stroke-width="4.5"/>
<line x1="859.50" y1="1426.75" x2="903.50" y2="1426.75" stroke="#000" stroke-width="4.5" stroke-linecap="butt"/>
<line x1="954.75" y1="1349.00" x2="954.75" y2="1421.00" stroke="#000" stroke-width="4.5" stroke-linecap="butt"/>
<line x1="954.75" y1="1487.25" x2="954.75" y2="1510.00" stroke="#000" stroke-width="4.5" stroke-linecap="butt"/>
<line x1="943.00" y1="1349.00" x2="966.50" y2="1349.00" stroke="#000" stroke-width="4.5" stroke-linecap="butt"/>
<line x1="943.00" y1="1510.00" x2="966.50" y2="1510.00" stroke="#000" stroke-width="4.5" stroke-linecap="butt"/>
<rect x="932.75" y="1421.00" width="44.00" height="66.25" fill="none" stroke="#000" stroke-width="4.5"/>
<line x1="932.75" y1="1465.00" x2="976.75" y2="1465.00" stroke="#000" stroke-width="4.5" stroke-linecap="butt"/>
<line x1="1028.00" y1="1395.75" x2="1028.00" y2="1452.25" stroke="#000" stroke-width="4.5" stroke-linecap="butt"/>
<line x1="1028.00" y1="1477.25" x2="1028.00" y2="1517.50" stroke="#000" stroke-width="4.5" stroke-linecap="butt"/>
<line x1="1016.25" y1="1395.75" x2="1039.75" y2="1395.75" stroke="#000" stroke-width="4.5" stroke-linecap="butt"/>
<line x1="1016.25" y1="1517.50" x2="1039.75" y2="1517.50" stroke="#000" stroke-width="4.5" stroke-linecap="butt"/>
<rect x="1006.00" y="1452.25" width="44.00" height="25.00" fill="none" stroke="#000" stroke-width="4.5"/>
<line x1="1006.00" y1="1473.50" x2="1050.00" y2="1473.50" stroke="#000" stroke-width="4.5" stroke-linecap="butt"/>
<line x1="1101.25" y1="1448.25" x2="1101.25" y2="1470.75" stroke="#000" stroke-width="4.5" stroke-linecap="butt"/>
<line x1="1101.25" y1="1521.00" x2="1101.25" y2="1546.75" stroke="#000" stroke-width="4.5" stroke-linecap="butt"/>
<line x1="1089.50" y1="1448.25" x2="1113.00" y2="1448.25" stroke="#000" stroke-width="4.5" stroke-linecap="butt"/>
<line x1="1089.50" y1="1546.75" x2="1113.00" y2="1546.75" stroke="#000" stroke-width="4.5" stroke-linecap="butt"/>
<rect x="1079.25" y="1470.75" width="44.00" height="50.25" fill="none" stroke="#000" stroke-width="4.5"/>
<line x1="1079.25" y1="1494.25" x2="1123.25" y2="1494.25" stroke="#000" stroke-width="4.5" stroke-linecap="butt"/>
<line x1="881.75" y1="1260.50" x2="1104.00" y2="1260.50" stroke="#000" stroke-width="3" stroke-linecap="butt"/>
<line x1="881.75" y1="1297.75" x2="1025.75" y2="1297.75" stroke="#000" stroke-width="3" stroke-linecap="butt"/>
<line x1="963.25" y1="1334.25" x2="1104.00" y2="1334.25" stroke="#000" stroke-width="3" stroke-linecap="butt"/>
<line x1="1027.00" y1="1374.50" x2="1104.00" y2="1374.50" stroke="#000" stroke-width="3" stroke-linecap="butt"/>
<line x1="1376.20" y1="1330.40" x2="1376.20" y2="1598.05" stroke="#000" stroke-width="2.9" stroke-linecap="butt"/>
<line x1="1363.20" y1="1596.80" x2="1769.00" y2="1596.80" stroke="#000" stroke-width="2.9" stroke-linecap="butt"/>
<line x1="1363.20" y1="1530.48" x2="1376.20" y2="1530.48" stroke="#000" stroke-width="2.8" stroke-linecap="butt"/>
<line x1="1363.20" y1="1464.26" x2="1376.20" y2="1464.26" stroke="#000" stroke-width="2.8" stroke-linecap="butt"/>
<line x1="1363.20" y1="1398.04" x2="1376.20" y2="1398.04" stroke="#000" stroke-width="2.8" stroke-linecap="butt"/>
<line x1="1363.20" y1="1331.82" x2="1376.20" y2="1331.82" stroke="#000" stroke-width="2.8" stroke-linecap="butt"/>
<line x1="1424.60" y1="1596.80" x2="1424.60" y2="1608.20" stroke="#000" stroke-width="2.8" stroke-linecap="butt"/>
<line x1="1498.00" y1="1596.80" x2="1498.00" y2="1608.20" stroke="#000" stroke-width="2.8" stroke-linecap="butt"/>
<line x1="1571.20" y1="1596.80" x2="1571.20" y2="1608.20" stroke="#000" stroke-width="2.8" stroke-linecap="butt"/>
<line x1="1644.75" y1="1596.80" x2="1644.75" y2="1608.20" stroke="#000" stroke-width="2.8" stroke-linecap="butt"/>
<line x1="1718.00" y1="1596.80" x2="1718.00" y2="1608.20" stroke="#000" stroke-width="2.8" stroke-linecap="butt"/>
<line x1="1424.60" y1="1473.00" x2="1424.60" y2="1493.60" stroke="#000" stroke-width="4.2" stroke-linecap="butt"/>
<line x1="1424.60" y1="1506.90" x2="1424.60" y2="1533.00" stroke="#000" stroke-width="4.2" stroke-linecap="butt"/>
<line x1="1412.85" y1="1473.00" x2="1436.35" y2="1473.00" stroke="#000" stroke-width="4.2" stroke-linecap="butt"/>
<line x1="1412.85" y1="1533.00" x2="1436.35" y2="1533.00" stroke="#000" stroke-width="4.2" stroke-linecap="butt"/>
<rect x="1402.57" y="1493.60" width="44.05" height="13.30" fill="none" stroke="#000" stroke-width="4.2"/>
<line x1="1402.57" y1="1499.25" x2="1446.62" y2="1499.25" stroke="#000" stroke-width="4.2" stroke-linecap="butt"/>
<line x1="1498.00" y1="1478.75" x2="1498.00" y2="1502.10" stroke="#000" stroke-width="4.2" stroke-linecap="butt"/>
<line x1="1498.00" y1="1522.15" x2="1498.00" y2="1536.75" stroke="#000" stroke-width="4.2" stroke-linecap="butt"/>
<line x1="1486.25" y1="1478.75" x2="1509.75" y2="1478.75" stroke="#000" stroke-width="4.2" stroke-linecap="butt"/>
<line x1="1486.25" y1="1536.75" x2="1509.75" y2="1536.75" stroke="#000" stroke-width="4.2" stroke-linecap="butt"/>
<rect x="1475.97" y="1502.10" width="44.05" height="20.05" fill="none" stroke="#000" stroke-width="4.2"/>
<line x1="1475.97" y1="1509.50" x2="1520.03" y2="1509.50" stroke="#000" stroke-width="4.2" stroke-linecap="butt"/>
<line x1="1571.20" y1="1350.00" x2="1571.20" y2="1411.35" stroke="#000" stroke-width="4.2" stroke-linecap="butt"/>
<line x1="1571.20" y1="1442.40" x2="1571.20" y2="1460.00" stroke="#000" stroke-width="4.2" stroke-linecap="butt"/>
<line x1="1559.45" y1="1350.00" x2="1582.95" y2="1350.00" stroke="#000" stroke-width="4.2" stroke-linecap="butt"/>
<line x1="1559.45" y1="1460.00" x2="1582.95" y2="1460.00" stroke="#000" stroke-width="4.2" stroke-linecap="butt"/>
<rect x="1549.17" y="1411.35" width="44.05" height="31.05" fill="none" stroke="#000" stroke-width="4.2"/>
<line x1="1549.17" y1="1419.50" x2="1593.23" y2="1419.50" stroke="#000" stroke-width="4.2" stroke-linecap="butt"/>
<line x1="1644.75" y1="1415.50" x2="1644.75" y2="1445.10" stroke="#000" stroke-width="4.2" stroke-linecap="butt"/>
<line x1="1644.75" y1="1465.40" x2="1644.75" y2="1482.50" stroke="#000" stroke-width="4.2" stroke-linecap="butt"/>
<line x1="1633.00" y1="1415.50" x2="1656.50" y2="1415.50" stroke="#000" stroke-width="4.2" stroke-linecap="butt"/>
<line x1="1633.00" y1="1482.50" x2="1656.50" y2="1482.50" stroke="#000" stroke-width="4.2" stroke-linecap="butt"/>
<rect x="1622.72" y="1445.10" width="44.05" height="20.30" fill="none" stroke="#000" stroke-width="4.2"/>
<line x1="1622.72" y1="1458.75" x2="1666.78" y2="1458.75" stroke="#000" stroke-width="4.2" stroke-linecap="butt"/>
<line x1="1718.00" y1="1441.50" x2="1718.00" y2="1475.35" stroke="#000" stroke-width="4.2" stroke-linecap="butt"/>
<line x1="1718.00" y1="1495.40" x2="1718.00" y2="1512.50" stroke="#000" stroke-width="4.2" stroke-linecap="butt"/>
<line x1="1706.25" y1="1441.50" x2="1729.75" y2="1441.50" stroke="#000" stroke-width="4.2" stroke-linecap="butt"/>
<line x1="1706.25" y1="1512.50" x2="1729.75" y2="1512.50" stroke="#000" stroke-width="4.2" stroke-linecap="butt"/>
<rect x="1695.97" y="1475.35" width="44.05" height="20.05" fill="none" stroke="#000" stroke-width="4.2"/>
<line x1="1695.97" y1="1480.00" x2="1740.03" y2="1480.00" stroke="#000" stroke-width="4.2" stroke-linecap="butt"/>
<line x1="1491.00" y1="1252.75" x2="1718.25" y2="1252.75" stroke="#000" stroke-width="2.8" stroke-linecap="butt"/>
<line x1="1561.00" y1="1284.25" x2="1718.25" y2="1284.25" stroke="#000" stroke-width="2.8" stroke-linecap="butt"/>
<line x1="1493.50" y1="1311.00" x2="1621.75" y2="1311.00" stroke="#000" stroke-width="2.8" stroke-linecap="butt"/>
<line x1="1493.50" y1="1340.50" x2="1558.25" y2="1340.50" stroke="#000" stroke-width="2.8" stroke-linecap="butt"/>
<line x1="1581.50" y1="1340.50" x2="1640.75" y2="1340.50" stroke="#000" stroke-width="2.8" stroke-linecap="butt"/>
<line x1="1660.75" y1="1340.50" x2="1722.00" y2="1340.50" stroke="#000" stroke-width="2.8" stroke-linecap="butt"/>
</g>
<g id="labels">
<text transform="translate(206.85,35.25) scale(0.7134,1.0000)" font-family="'Liberation Sans', sans-serif" font-size="45.9" stroke="#000" stroke-width="0.7">A</text>
<text transform="translate(334.98,140.00) scale(1.0140,1.0000)" font-family="'Liberation Serif', serif" font-size="16.5" stroke="#000" stroke-width="0.28">C57BL/6</text>
<text transform="translate(470.83,67.80) scale(1.0231,1.0000)" font-family="'Liberation Serif', serif" font-size="24.2" stroke="#000" stroke-width="0.28">0w</text>
<text transform="translate(624.02,67.80) scale(1.0367,1.0000)" font-family="'Liberation Serif', serif" font-size="24.2" stroke="#000" stroke-width="0.28">3w</text>
<text transform="translate(723.82,67.80) scale(1.0402,1.0000)" font-family="'Liberation Serif', serif" font-size="24.2" stroke="#000" stroke-width="0.28">5w</text>
<text transform="translate(881.24,67.80) scale(1.0091,1.0000)" font-family="'Liberation Serif', serif" font-size="24.2" stroke="#000" stroke-width="0.28">8w</text>
<text transform="translate(1034.12,67.80) scale(0.9921,1.0000)" font-family="'Liberation Serif', serif" font-size="24.2" stroke="#000" stroke-width="0.28">11w</text>
<text transform="translate(1188.10,67.80) scale(1.0075,1.0000)" font-family="'Liberation Serif', serif" font-size="24.2" stroke="#000" stroke-width="0.28">14w</text>
<text transform="translate(468.98,139.50) scale(1.0160,1.0000)" font-family="'Liberation Serif', serif" font-size="16.5" stroke="#000" stroke-width="0.28">Collagen</text>
<text transform="translate(453.74,159.00) scale(1.0056,1.0000)" font-family="'Liberation Serif', serif" font-size="16.5" stroke="#000" stroke-width="0.28">immunisation</text>
<text transform="translate(626.74,140.00) scale(0.9919,1.0000)" font-family="'Liberation Serif', serif" font-size="16.5" stroke="#000" stroke-width="0.28">Boost</text>
<text transform="translate(872.24,140.00) scale(1.0076,1.0000)" font-family="'Liberation Serif', serif" font-size="16.5" stroke="#000" stroke-width="0.28">Harvest</text>
<text transform="translate(1026.74,140.00) scale(0.9978,1.0000)" font-family="'Liberation Serif', serif" font-size="16.5" stroke="#000" stroke-width="0.28">Harvest</text>
<text transform="translate(1185.74,140.00) scale(0.9978,1.0000)" font-family="'Liberation Serif', serif" font-size="16.5" stroke="#000" stroke-width="0.28">Harvest</text>
<text transform="translate(1282.00,114.50) scale(0.9955,1.0000)" font-family="'Liberation Serif', serif" font-size="16.5" stroke="#000" stroke-width="0.28">Analysis</text>
<text transform="translate(913.19,19.20) scale(1.1061,1.0000)" font-family="'Liberation Sans', sans-serif" font-size="14.8" stroke="#000" stroke-width="0.28">Triptolide</text>
<text transform="translate(988.70,19.50) scale(1.0010,1.0000)" font-family="'Liberation Serif', serif" font-size="16.6" stroke="#000" stroke-width="0.28">treatment</text>
<text transform="translate(205.31,277.45) scale(0.7928,1.0000)" font-family="'Liberation Sans', sans-serif" font-size="45.9" stroke="#000" stroke-width="0.7">B</text>
<text transform="translate(294.59,617.95) scale(0.9400,1.0000)" font-family="'Liberation Serif', serif" font-size="20" stroke="#000" stroke-width="0.28">16</text>
<text transform="translate(294.89,573.15) scale(0.9400,1.0000)" font-family="'Liberation Serif', serif" font-size="20" stroke="#000" stroke-width="0.28">18</text>
<text transform="translate(294.89,528.35) scale(0.9400,1.0000)" font-family="'Liberation Serif', serif" font-size="20" stroke="#000" stroke-width="0.28">20</text>
<text transform="translate(295.18,483.55) scale(0.9400,1.0000)" font-family="'Liberation Serif', serif" font-size="20" stroke="#000" stroke-width="0.28">22</text>
<text transform="translate(294.59,438.75) scale(0.9400,1.0000)" font-family="'Liberation Serif', serif" font-size="20" stroke="#000" stroke-width="0.28">24</text>
<text transform="translate(294.59,393.95) scale(0.9400,1.0000)" font-family="'Liberation Serif', serif" font-size="20" stroke="#000" stroke-width="0.28">26</text>
<text transform="translate(294.89,349.15) scale(0.9400,1.0000)" font-family="'Liberation Serif', serif" font-size="20" stroke="#000" stroke-width="0.28">28</text>
<text transform="translate(334.57,643.00) scale(0.9600,1.0000)" font-family="'Liberation Serif', serif" font-size="20.3" stroke="#000" stroke-width="0.28">0w</text>
<text transform="translate(369.91,643.00) scale(0.9600,1.0000)" font-family="'Liberation Serif', serif" font-size="20.3" stroke="#000" stroke-width="0.28">1w</text>
<text transform="translate(406.17,643.00) scale(0.9600,1.0000)" font-family="'Liberation Serif', serif" font-size="20.3" stroke="#000" stroke-width="0.28">2w</text>
<text transform="translate(441.82,643.00) scale(0.9600,1.0000)" font-family="'Liberation Serif', serif" font-size="20.3" stroke="#000" stroke-width="0.28">3w</text>
<text transform="translate(477.92,643.00) scale(0.9600,1.0000)" font-family="'Liberation Serif', serif" font-size="20.3" stroke="#000" stroke-width="0.28">4w</text>
<text transform="translate(513.42,643.00) scale(0.9600,1.0000)" font-family="'Liberation Serif', serif" font-size="20.3" stroke="#000" stroke-width="0.28">5w</text>
<text transform="translate(549.37,643.00) scale(0.9600,1.0000)" font-family="'Liberation Serif', serif" font-size="20.3" stroke="#000" stroke-width="0.28">6w</text>
<text transform="translate(584.87,643.00) scale(0.9600,1.0000)" font-family="'Liberation Serif', serif" font-size="20.3" stroke="#000" stroke-width="0.28">7w</text>
<text transform="translate(620.97,643.00) scale(0.9600,1.0000)" font-family="'Liberation Serif', serif" font-size="20.3" stroke="#000" stroke-width="0.28">8w</text>
<text transform="translate(656.77,643.00) scale(0.9600,1.0000)" font-family="'Liberation Serif', serif" font-size="20.3" stroke="#000" stroke-width="0.28">9w</text>
<text transform="translate(687.24,643.00) scale(0.9600,1.0000)" font-family="'Liberation Serif', serif" font-size="20.3" stroke="#000" stroke-width="0.28">10w</text>
<text transform="translate(723.40,643.00) scale(0.9600,1.0000)" font-family="'Liberation Serif', serif" font-size="20.3" stroke="#000" stroke-width="0.28">11w</text>
<text transform="translate(758.84,643.00) scale(0.9600,1.0000)" font-family="'Liberation Serif', serif" font-size="20.3" stroke="#000" stroke-width="0.28">12w</text>
<text transform="translate(794.64,643.00) scale(0.9600,1.0000)" font-family="'Liberation Serif', serif" font-size="20.3" stroke="#000" stroke-width="0.28">13w</text>
<text transform="translate(830.44,643.00) scale(0.9600,1.0000)" font-family="'Liberation Serif', serif" font-size="20.3" stroke="#000" stroke-width="0.28">14w</text>
<text transform="translate(279.60,527.20) rotate(-90) scale(1.0426,1.0000)" font-family="'Liberation Serif', serif" font-size="21.3" font-weight="bold" stroke="#000" stroke-width="0.28">Weight (g)</text>
<text transform="translate(410.10,265.70) scale(0.9472,1.0000)" font-family="'Liberation Sans', sans-serif" font-size="22.5" stroke="#000" stroke-width="0.28">Con</text>
<text transform="translate(410.08,302.20) scale(0.9655,1.0000)" font-family="'Liberation Sans', sans-serif" font-size="22.5" stroke="#000" stroke-width="0.28">CIA</text>
<text transform="translate(409.56,338.70) scale(0.9926,1.0000)" font-family="'Liberation Sans', sans-serif" font-size="22.5" stroke="#000" stroke-width="0.28">Low</text>
<text transform="translate(409.57,375.00) scale(0.9841,1.0000)" font-family="'Liberation Sans', sans-serif" font-size="22.5" stroke="#000" stroke-width="0.28">Middle</text>
<text transform="translate(410.09,411.70) scale(0.9155,1.0000)" font-family="'Liberation Sans', sans-serif" font-size="22.5" stroke="#000" stroke-width="0.28">High</text>
<text transform="translate(934.13,271.45) scale(0.7074,1.0000)" font-family="'Liberation Sans', sans-serif" font-size="45.9" stroke="#000" stroke-width="0.7">C</text>
<text transform="translate(1105.96,611.95) scale(1.0700,1.0000)" font-family="'Liberation Serif', serif" font-size="24.2" stroke="#000" stroke-width="0.28">0</text>
<text transform="translate(1106.37,533.75) scale(1.0700,1.0000)" font-family="'Liberation Serif', serif" font-size="24.2" stroke="#000" stroke-width="0.28">2</text>
<text transform="translate(1105.56,455.55) scale(1.0700,1.0000)" font-family="'Liberation Serif', serif" font-size="24.2" stroke="#000" stroke-width="0.28">4</text>
<text transform="translate(1105.56,377.35) scale(1.0700,1.0000)" font-family="'Liberation Serif', serif" font-size="24.2" stroke="#000" stroke-width="0.28">6</text>
<text transform="translate(1105.96,299.15) scale(1.0700,1.0000)" font-family="'Liberation Serif', serif" font-size="24.2" stroke="#000" stroke-width="0.28">8</text>
<text transform="translate(1172.42,640.90) scale(1.0693,1.0000)" font-family="'Liberation Serif', serif" font-size="24.8" stroke="#000" stroke-width="0.28">CIA</text>
<text transform="translate(1257.60,640.90) scale(1.0281,1.0000)" font-family="'Liberation Serif', serif" font-size="24.8" stroke="#000" stroke-width="0.28">Low</text>
<text transform="translate(1328.33,640.90) scale(1.0890,1.0000)" font-family="'Liberation Serif', serif" font-size="24.8" stroke="#000" stroke-width="0.28">Middle</text>
<text transform="translate(1425.84,640.90) scale(1.0668,1.0000)" font-family="'Liberation Serif', serif" font-size="24.8" stroke="#000" stroke-width="0.28">High</text>
<text transform="translate(1086.30,527.50) rotate(-90) scale(0.8377,1.0000)" font-family="'Liberation Serif', serif" font-size="31.4" stroke="#000" stroke-width="0.28">Arthritis  scroe</text>
<text transform="translate(1276.80,270.05) scale(1.1200,1.0000)" font-family="'Liberation Serif', serif" font-size="27.5" font-weight="bold" stroke="#000" stroke-width="0.3">*</text>
<text transform="translate(1227.30,307.05) scale(1.1200,1.0000)" font-family="'Liberation Serif', serif" font-size="27.5" font-weight="bold" stroke="#000" stroke-width="0.3">*</text>
<text transform="translate(205.62,766.85) scale(0.7043,1.0000)" font-family="'Liberation Sans', sans-serif" font-size="45.9" stroke="#000" stroke-width="0.7">D</text>
<text transform="translate(330.24,1097.35) scale(0.9600,1.0000)" font-family="'Liberation Serif', serif" font-size="23.4" stroke="#000" stroke-width="0.28">20</text>
<text transform="translate(330.24,1019.25) scale(0.9600,1.0000)" font-family="'Liberation Serif', serif" font-size="23.4" stroke="#000" stroke-width="0.28">25</text>
<text transform="translate(330.24,941.15) scale(0.9600,1.0000)" font-family="'Liberation Serif', serif" font-size="23.4" stroke="#000" stroke-width="0.28">30</text>
<text transform="translate(330.24,863.05) scale(0.9600,1.0000)" font-family="'Liberation Serif', serif" font-size="23.4" stroke="#000" stroke-width="0.28">35</text>
<text transform="translate(330.24,784.95) scale(0.9600,1.0000)" font-family="'Liberation Serif', serif" font-size="23.4" stroke="#000" stroke-width="0.28">40</text>
<text transform="translate(398.68,1126.70) scale(0.9434,1.0000)" font-family="'Liberation Serif', serif" font-size="24.3" stroke="#000" stroke-width="0.28">Con</text>
<text transform="translate(471.30,1126.70) scale(0.9242,1.0000)" font-family="'Liberation Serif', serif" font-size="24.3" stroke="#000" stroke-width="0.28">CIA</text>
<text transform="translate(543.55,1126.70) scale(0.9188,1.0000)" font-family="'Liberation Serif', serif" font-size="24.3" stroke="#000" stroke-width="0.28">Low</text>
<text transform="translate(604.14,1126.70) scale(0.9397,1.0000)" font-family="'Liberation Serif', serif" font-size="24.3" stroke="#000" stroke-width="0.28">Middle</text>
<text transform="translate(687.85,1126.70) scale(0.9208,1.0000)" font-family="'Liberation Serif', serif" font-size="24.3" stroke="#000" stroke-width="0.28">High</text>
<text transform="translate(313.50,1001.78) rotate(-90) scale(0.9357,1.0000)" font-family="'Liberation Serif', serif" font-size="26.8" stroke="#000" stroke-width="0.28">IL-6 (pg/mL)</text>
<text transform="translate(573.25,757.25) scale(1.0000,1.0000)" font-family="'Liberation Serif', serif" font-size="25" font-weight="bold" stroke="#000" stroke-width="0.3">****</text>
<text transform="translate(530.50,790.25) scale(1.0000,1.0000)" font-family="'Liberation Serif', serif" font-size="25" font-weight="bold" stroke="#000" stroke-width="0.3">****</text>
<text transform="translate(425.75,824.25) scale(1.0000,1.0000)" font-family="'Liberation Serif', serif" font-size="25" font-weight="bold" stroke="#000" stroke-width="0.3">****</text>
<text transform="translate(498.75,824.25) scale(1.0000,1.0000)" font-family="'Liberation Serif', serif" font-size="25" font-weight="bold" stroke="#000" stroke-width="0.3">***</text>
<text transform="translate(579.00,824.25) scale(1.0000,1.0000)" font-family="'Liberation Serif', serif" font-size="25" font-weight="bold" stroke="#000" stroke-width="0.3">**</text>
<text transform="translate(628.00,851.00) scale(1.0000,1.0000)" font-family="'Liberation Serif', serif" font-size="25" font-weight="bold" stroke="#000" stroke-width="0.3">*</text>
<text transform="translate(934.16,766.45) scale(0.7490,1.0000)" font-family="'Liberation Sans', sans-serif" font-size="45.9" stroke="#000" stroke-width="0.7">E</text>
<text transform="translate(1093.37,1099.40) scale(0.9600,1.0000)" font-family="'Liberation Serif', serif" font-size="23.4" stroke="#000" stroke-width="0.28">0</text>
<text transform="translate(1070.91,1038.95) scale(0.9600,1.0000)" font-family="'Liberation Serif', serif" font-size="23.4" stroke="#000" stroke-width="0.28">100</text>
<text transform="translate(1070.91,978.50) scale(0.9600,1.0000)" font-family="'Liberation Serif', serif" font-size="23.4" stroke="#000" stroke-width="0.28">200</text>
<text transform="translate(1070.91,918.05) scale(0.9600,1.0000)" font-family="'Liberation Serif', serif" font-size="23.4" stroke="#000" stroke-width="0.28">300</text>
<text transform="translate(1070.91,857.60) scale(0.9600,1.0000)" font-family="'Liberation Serif', serif" font-size="23.4" stroke="#000" stroke-width="0.28">400</text>
<text transform="translate(1070.91,797.15) scale(0.9600,1.0000)" font-family="'Liberation Serif', serif" font-size="23.4" stroke="#000" stroke-width="0.28">500</text>
<text transform="translate(1149.30,1127.30) scale(0.9246,1.0000)" font-family="'Liberation Serif', serif" font-size="24.3" stroke="#000" stroke-width="0.28">Con</text>
<text transform="translate(1220.56,1127.30) scale(0.9145,1.0000)" font-family="'Liberation Serif', serif" font-size="24.3" stroke="#000" stroke-width="0.28">CIA</text>
<text transform="translate(1292.16,1127.30) scale(0.8848,1.0000)" font-family="'Liberation Serif', serif" font-size="24.3" stroke="#000" stroke-width="0.28">Low</text>
<text transform="translate(1351.65,1127.30) scale(0.9166,1.0000)" font-family="'Liberation Serif', serif" font-size="24.3" stroke="#000" stroke-width="0.28">Middle</text>
<text transform="translate(1433.41,1127.30) scale(0.9073,1.0000)" font-family="'Liberation Serif', serif" font-size="24.3" stroke="#000" stroke-width="0.28">High</text>
<text transform="translate(1056.00,1020.86) rotate(-90) scale(0.9170,1.0000)" font-family="'Liberation Serif', serif" font-size="26.4" stroke="#000" stroke-width="0.28">IL-17A (pg/mL)</text>
<text transform="translate(1309.50,756.25) scale(1.0000,1.0000)" font-family="'Liberation Serif', serif" font-size="25" font-weight="bold" stroke="#000" stroke-width="0.3">****</text>
<text transform="translate(1282.00,795.90) scale(1.0000,1.0000)" font-family="'Liberation Serif', serif" font-size="25" font-weight="bold" stroke="#000" stroke-width="0.3">****</text>
<text transform="translate(1182.50,838.25) scale(1.0000,1.0000)" font-family="'Liberation Serif', serif" font-size="25" font-weight="bold" stroke="#000" stroke-width="0.3">*</text>
<text transform="translate(1251.75,838.25) scale(1.0000,1.0000)" font-family="'Liberation Serif', serif" font-size="25" font-weight="bold" stroke="#000" stroke-width="0.3">**</text>
<text transform="translate(1382.00,838.25) scale(1.0000,1.0000)" font-family="'Liberation Serif', serif" font-size="25" font-weight="bold" stroke="#000" stroke-width="0.3">*</text>
<text transform="translate(-0.77,1255.65) scale(0.8410,1.0000)" font-family="'Liberation Sans', sans-serif" font-size="45.9" stroke="#000" stroke-width="0.7">F</text>
<text transform="translate(115.86,1599.60) scale(0.9700,1.0000)" font-family="'Liberation Serif', serif" font-size="23.4" stroke="#000" stroke-width="0.28">0</text>
<text transform="translate(115.86,1503.30) scale(0.9700,1.0000)" font-family="'Liberation Serif', serif" font-size="23.4" stroke="#000" stroke-width="0.28">5</text>
<text transform="translate(104.51,1407.00) scale(0.9700,1.0000)" font-family="'Liberation Serif', serif" font-size="23.4" stroke="#000" stroke-width="0.28">10</text>
<text transform="translate(104.51,1310.70) scale(0.9700,1.0000)" font-family="'Liberation Serif', serif" font-size="23.4" stroke="#000" stroke-width="0.28">15</text>
<text transform="translate(173.03,1626.00) scale(1.0042,1.0000)" font-family="'Liberation Serif', serif" font-size="22.8" stroke="#000" stroke-width="0.28">Con</text>
<text transform="translate(245.80,1626.00) scale(0.9825,1.0000)" font-family="'Liberation Serif', serif" font-size="22.8" stroke="#000" stroke-width="0.28">CIA</text>
<text transform="translate(318.05,1626.00) scale(0.9696,1.0000)" font-family="'Liberation Serif', serif" font-size="22.8" stroke="#000" stroke-width="0.28">Low</text>
<text transform="translate(378.84,1626.00) scale(0.9999,1.0000)" font-family="'Liberation Serif', serif" font-size="22.8" stroke="#000" stroke-width="0.28">Middle</text>
<text transform="translate(461.85,1626.00) scale(0.9902,1.0000)" font-family="'Liberation Serif', serif" font-size="22.8" stroke="#000" stroke-width="0.28">High</text>
<text transform="translate(88.00,1546.08) rotate(-90) scale(0.9126,1.0000)" font-family="'Liberation Serif', serif" font-size="26.4" stroke="#000" stroke-width="0.28">Estrous cycle (days)</text>
<text transform="translate(354.50,1252.50) scale(1.0000,1.0000)" font-family="'Liberation Serif', serif" font-size="25" font-weight="bold" stroke="#000" stroke-width="0.3">***</text>
<text transform="translate(325.00,1285.90) scale(1.0000,1.0000)" font-family="'Liberation Serif', serif" font-size="25" font-weight="bold" stroke="#000" stroke-width="0.3">**</text>
<text transform="translate(289.25,1319.50) scale(1.0000,1.0000)" font-family="'Liberation Serif', serif" font-size="25" font-weight="bold" stroke="#000" stroke-width="0.3">**</text>
<text transform="translate(611.21,1256.15) scale(0.6706,1.0000)" font-family="'Liberation Sans', sans-serif" font-size="45.9" stroke="#000" stroke-width="0.7">G</text>
<text transform="translate(721.01,1595.35) scale(0.9700,1.0000)" font-family="'Liberation Serif', serif" font-size="23.4" stroke="#000" stroke-width="0.28">20</text>
<text transform="translate(721.01,1533.10) scale(0.9700,1.0000)" font-family="'Liberation Serif', serif" font-size="23.4" stroke="#000" stroke-width="0.28">25</text>
<text transform="translate(721.01,1470.85) scale(0.9700,1.0000)" font-family="'Liberation Serif', serif" font-size="23.4" stroke="#000" stroke-width="0.28">30</text>
<text transform="translate(721.01,1408.60) scale(0.9700,1.0000)" font-family="'Liberation Serif', serif" font-size="23.4" stroke="#000" stroke-width="0.28">35</text>
<text transform="translate(721.01,1346.35) scale(0.9700,1.0000)" font-family="'Liberation Serif', serif" font-size="23.4" stroke="#000" stroke-width="0.28">40</text>
<text transform="translate(721.01,1284.10) scale(0.9700,1.0000)" font-family="'Liberation Serif', serif" font-size="23.4" stroke="#000" stroke-width="0.28">45</text>
<text transform="translate(789.79,1624.70) scale(0.9448,1.0000)" font-family="'Liberation Serif', serif" font-size="24.2" stroke="#000" stroke-width="0.28">Con</text>
<text transform="translate(862.30,1624.70) scale(0.9305,1.0000)" font-family="'Liberation Serif', serif" font-size="24.2" stroke="#000" stroke-width="0.28">CIA</text>
<text transform="translate(934.75,1624.70) scale(0.9226,1.0000)" font-family="'Liberation Serif', serif" font-size="24.2" stroke="#000" stroke-width="0.28">Low</text>
<text transform="translate(995.64,1624.70) scale(0.9450,1.0000)" font-family="'Liberation Serif', serif" font-size="24.2" stroke="#000" stroke-width="0.28">Middle</text>
<text transform="translate(1078.95,1624.70) scale(0.9308,1.0000)" font-family="'Liberation Serif', serif" font-size="24.2" stroke="#000" stroke-width="0.28">High</text>
<text transform="translate(704.90,1496.70) rotate(-90) scale(0.9608,1.0000)" font-family="'Liberation Serif', serif" font-size="26.7" stroke="#000" stroke-width="0.28">E2 (pmol/L)</text>
<text transform="translate(964.25,1254.50) scale(1.0000,1.0000)" font-family="'Liberation Serif', serif" font-size="25" font-weight="bold" stroke="#000" stroke-width="0.3">****</text>
<text transform="translate(932.00,1292.10) scale(1.0000,1.0000)" font-family="'Liberation Serif', serif" font-size="25" font-weight="bold" stroke="#000" stroke-width="0.3">***</text>
<text transform="translate(1019.50,1328.50) scale(1.0000,1.0000)" font-family="'Liberation Serif', serif" font-size="25" font-weight="bold" stroke="#000" stroke-width="0.3">**</text>
<text transform="translate(1058.25,1368.75) scale(1.0000,1.0000)" font-family="'Liberation Serif', serif" font-size="25" font-weight="bold" stroke="#000" stroke-width="0.3">*</text>
<text transform="translate(1207.54,1255.65) scale(0.7553,1.0000)" font-family="'Liberation Sans', sans-serif" font-size="45.9" stroke="#000" stroke-width="0.7">H</text>
<text transform="translate(1336.86,1604.30) scale(1.0800,1.0000)" font-family="'Liberation Serif', serif" font-size="21.4" stroke="#000" stroke-width="0.28">30</text>
<text transform="translate(1336.86,1538.08) scale(1.0800,1.0000)" font-family="'Liberation Serif', serif" font-size="21.4" stroke="#000" stroke-width="0.28">40</text>
<text transform="translate(1336.86,1471.86) scale(1.0800,1.0000)" font-family="'Liberation Serif', serif" font-size="21.4" stroke="#000" stroke-width="0.28">50</text>
<text transform="translate(1336.86,1405.64) scale(1.0800,1.0000)" font-family="'Liberation Serif', serif" font-size="21.4" stroke="#000" stroke-width="0.28">60</text>
<text transform="translate(1336.86,1339.42) scale(1.0800,1.0000)" font-family="'Liberation Serif', serif" font-size="21.4" stroke="#000" stroke-width="0.28">70</text>
<text transform="translate(1405.78,1628.70) scale(1.1129,1.0000)" font-family="'Liberation Serif', serif" font-size="20.6" stroke="#000" stroke-width="0.28">Con</text>
<text transform="translate(1478.81,1628.70) scale(1.0787,1.0000)" font-family="'Liberation Serif', serif" font-size="20.6" stroke="#000" stroke-width="0.28">CIA</text>
<text transform="translate(1551.66,1628.70) scale(1.0704,1.0000)" font-family="'Liberation Serif', serif" font-size="20.6" stroke="#000" stroke-width="0.28">Low</text>
<text transform="translate(1612.89,1628.70) scale(1.1067,1.0000)" font-family="'Liberation Serif', serif" font-size="20.6" stroke="#000" stroke-width="0.28">Middle</text>
<text transform="translate(1696.15,1628.70) scale(1.0886,1.0000)" font-family="'Liberation Serif', serif" font-size="20.6" stroke="#000" stroke-width="0.28">High</text>
<text transform="translate(1322.30,1528.53) rotate(-90) scale(0.7978,1.0000)" font-family="'Liberation Serif', serif" font-size="26.8" stroke="#000" stroke-width="0.28">FSH (mIU/ml)</text>
<text transform="translate(1583.28,1248.14) scale(1.0400,1.0000)" font-family="'Liberation Serif', serif" font-size="24" font-weight="bold" stroke="#000" stroke-width="0.3">***</text>
<text transform="translate(1611.04,1280.04) scale(1.0400,1.0000)" font-family="'Liberation Serif', serif" font-size="24" font-weight="bold" stroke="#000" stroke-width="0.3">****</text>
<text transform="translate(1529.04,1306.64) scale(1.0400,1.0000)" font-family="'Liberation Serif', serif" font-size="24" font-weight="bold" stroke="#000" stroke-width="0.3">****</text>
<text transform="translate(1497.29,1336.29) scale(1.0400,1.0000)" font-family="'Liberation Serif', serif" font-size="24" font-weight="bold" stroke="#000" stroke-width="0.3">****</text>
<text transform="translate(1589.78,1336.29) scale(1.0400,1.0000)" font-family="'Liberation Serif', serif" font-size="24" font-weight="bold" stroke="#000" stroke-width="0.3">***</text>
<text transform="translate(1662.29,1336.29) scale(1.0400,1.0000)" font-family="'Liberation Serif', serif" font-size="24" font-weight="bold" stroke="#000" stroke-width="0.3">****</text>
</g>
</svg>
</body></html>
